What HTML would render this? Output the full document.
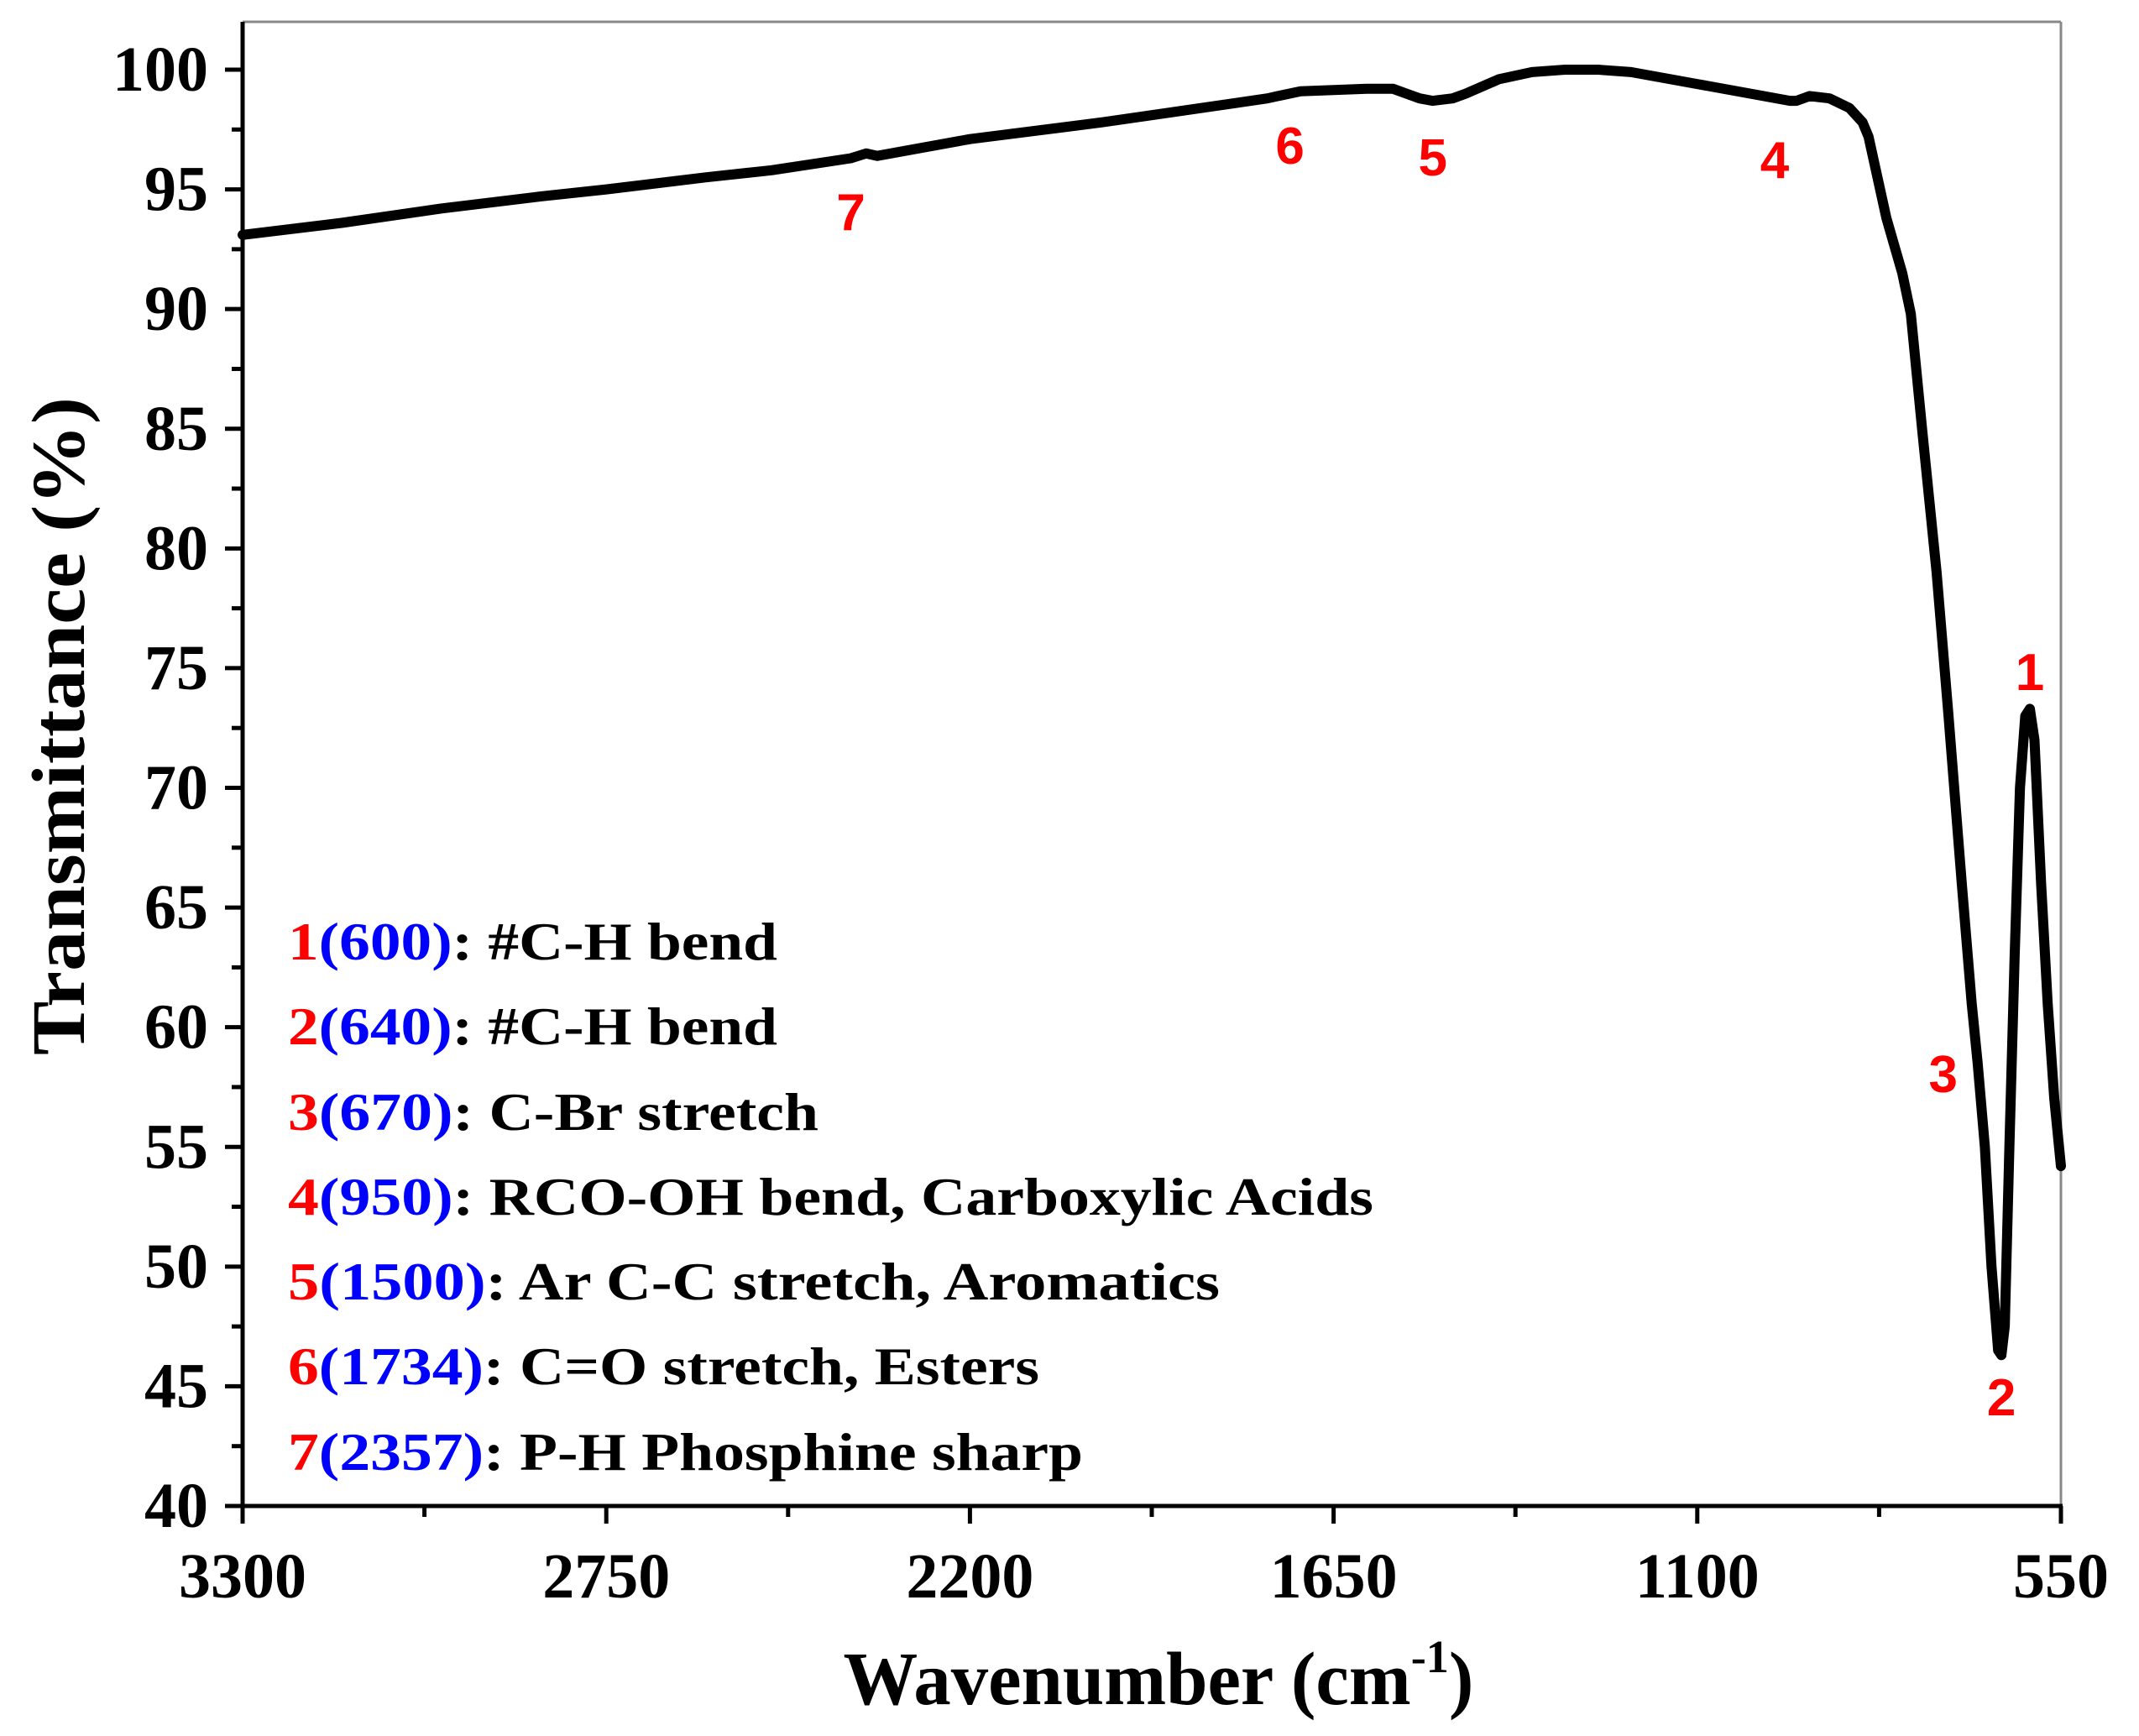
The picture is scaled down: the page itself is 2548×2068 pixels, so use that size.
<!DOCTYPE html>
<html><head><meta charset="utf-8"><style>
html,body{margin:0;padding:0;background:#fff;}
svg{display:block;}
.tk{font-family:"Liberation Serif",serif;font-weight:bold;font-size:76px;fill:#000;}
.lg{font-family:"Liberation Serif",serif;font-weight:bold;font-size:64px;}
.pk{font-family:"Liberation Sans",sans-serif;font-weight:bold;font-size:62px;fill:#f00;}
</style></head><body>
<svg id="chart" width="2548" height="2068" viewBox="0 0 2548 2068" xmlns="http://www.w3.org/2000/svg">
<g id="frame">
<line x1="289" y1="26" x2="2455" y2="26" stroke="#888" stroke-width="3"/>
<line x1="2455" y1="26" x2="2455" y2="1794" stroke="#888" stroke-width="3"/>
</g>
<g id="ticks"></g>
<path id="spectrum" fill="none" stroke="#000" stroke-width="12" stroke-linejoin="round" stroke-linecap="round"/>
<line x1="289" y1="26" x2="289" y2="1796" stroke="#000" stroke-width="5"/>
<line x1="287" y1="1794" x2="2457" y2="1794" stroke="#000" stroke-width="5"/>
<g id="peaks"></g>
<g>
<text class="lg" x="343" y="1143" textLength="583" lengthAdjust="spacingAndGlyphs"><tspan fill="#f00">1</tspan><tspan fill="#00f">(600)</tspan><tspan fill="#000">: #C-H bend</tspan></text>
<text class="lg" x="343" y="1244" textLength="583" lengthAdjust="spacingAndGlyphs"><tspan fill="#f00">2</tspan><tspan fill="#00f">(640)</tspan><tspan fill="#000">: #C-H bend</tspan></text>
<text class="lg" x="343" y="1346" textLength="632" lengthAdjust="spacingAndGlyphs"><tspan fill="#f00">3</tspan><tspan fill="#00f">(670)</tspan><tspan fill="#000">: C-Br stretch</tspan></text>
<text class="lg" x="343" y="1447" textLength="1293" lengthAdjust="spacingAndGlyphs"><tspan fill="#f00">4</tspan><tspan fill="#00f">(950)</tspan><tspan fill="#000">: RCO-OH bend, Carboxylic Acids</tspan></text>
<text class="lg" x="343" y="1548" textLength="1110" lengthAdjust="spacingAndGlyphs"><tspan fill="#f00">5</tspan><tspan fill="#00f">(1500)</tspan><tspan fill="#000">: Ar C-C stretch, Aromatics</tspan></text>
<text class="lg" x="343" y="1649" textLength="895" lengthAdjust="spacingAndGlyphs"><tspan fill="#f00">6</tspan><tspan fill="#00f">(1734)</tspan><tspan fill="#000">: C=O stretch, Esters</tspan></text>
<text class="lg" x="343" y="1751" textLength="947" lengthAdjust="spacingAndGlyphs"><tspan fill="#f00">7</tspan><tspan fill="#00f">(2357)</tspan><tspan fill="#000">: P-H Phosphine sharp</tspan></text>
</g>
<text x="1380" y="2030" text-anchor="middle" font-family="Liberation Serif, serif" font-weight="bold" font-size="90" textLength="751" lengthAdjust="spacingAndGlyphs">Wavenumber (cm<tspan font-size="55" dy="-38">-1</tspan><tspan dy="38">)</tspan></text>
<text transform="translate(100,865) rotate(-90)" text-anchor="middle" font-family="Liberation Serif, serif" font-weight="bold" font-size="90" textLength="784" lengthAdjust="spacingAndGlyphs">Transmittance (%)</text>
</svg>
<script>
const wavenumbers = [3300,3150,3000,2850,2750,2600,2500,2380,2357,2340,2200,2000,1800,1750,1734,1700,1600,1560,1540,1520,1500,1470,1450,1400,1350,1300,1250,1200,1100,1000,960,950,930,900,870,850,841,814,790,777,760,738,720,700,685,676,665,655,645,640,635,628,620,612,604,597,590,580,570,560,550];
const transmittance = [93.1,93.6,94.2,94.7,95.0,95.5,95.8,96.3,96.5,96.4,97.1,97.8,98.6,98.8,98.9,99.1,99.2,99.2,99.0,98.8,98.7,98.8,99.0,99.6,99.9,100.0,100.0,99.9,99.4,98.9,98.7,98.7,98.9,98.8,98.4,97.8,97.2,93.8,91.5,89.8,85.0,79.0,73.0,66.0,61.0,58.5,55.0,50.0,46.5,46.3,47.5,55.0,63.0,70.0,73.0,73.3,72.0,66.0,61.0,57.0,54.2];
const yTicks = [40,45,50,55,60,65,70,75,80,85,90,95,100];
const xTicks = [3300,2750,2200,1650,1100,550];
const peakNums = ["1","2","3","4","5","6","7"];
const peakWn = [597,640,728,983,1500,1716,2380];
const peakT = [74.8,44.5,58.0,96.2,96.3,96.8,94.0];

const X0=289,X1=2455,Y0=1794,Y1=83;
const xs = w => X0 + (3300-w)/(3300-550)*(X1-X0);
const ys = t => Y0 - (t-40)/(100-40)*(Y0-Y1);
const NS="http://www.w3.org/2000/svg";
const tg=document.getElementById('ticks');
function mk(tag,attrs,parent){const e=document.createElementNS(NS,tag);for(const k in attrs)e.setAttribute(k,attrs[k]);parent.appendChild(e);return e;}

yTicks.forEach((t,i)=>{
  const y=ys(t);
  const l=mk('line',{x1:268,y1:y,x2:289,y2:y,stroke:'#000','stroke-width':5},tg);
  
  
  const tx=mk('text',{x:248,y:y,'text-anchor':'end','dominant-baseline':'central',class:'tk'},tg);
  tx.textContent=t;
  
  
  if(i<yTicks.length-1){
    const ym=ys(t+2.5);
    const m=mk('line',{x1:276,y1:ym,x2:289,y2:ym,stroke:'#000','stroke-width':5},tg);
    
    
  }
});
xTicks.forEach((w,i)=>{
  const x=xs(w);
  const l=mk('line',{x1:x,y1:Y0,x2:x,y2:Y0+21,stroke:'#000','stroke-width':5},tg);
  
  
  const tx=mk('text',{x:x,y:1878,'text-anchor':'middle','dominant-baseline':'central',class:'tk'},tg);
  tx.textContent=w;
  
  
  if(i<xTicks.length-1){
    const xm=xs(w-275);
    const m=mk('line',{x1:xm,y1:Y0,x2:xm,y2:Y0+13,stroke:'#000','stroke-width':5},tg);
    
    
  }
});
let d='';
wavenumbers.forEach((w,i)=>{d+=(i?'L':'M')+xs(w).toFixed(1)+','+ys(transmittance[i]).toFixed(1);});
document.getElementById('spectrum').setAttribute('d',d);
const pg=document.getElementById('peaks');
peakNums.forEach((n,i)=>{
  const t=mk('text',{x:xs(peakWn[i]),y:ys(peakT[i]),'text-anchor':'middle','dominant-baseline':'central',class:'pk'},pg);
  t.textContent=n;
  
  
});
</script>
</body></html>
